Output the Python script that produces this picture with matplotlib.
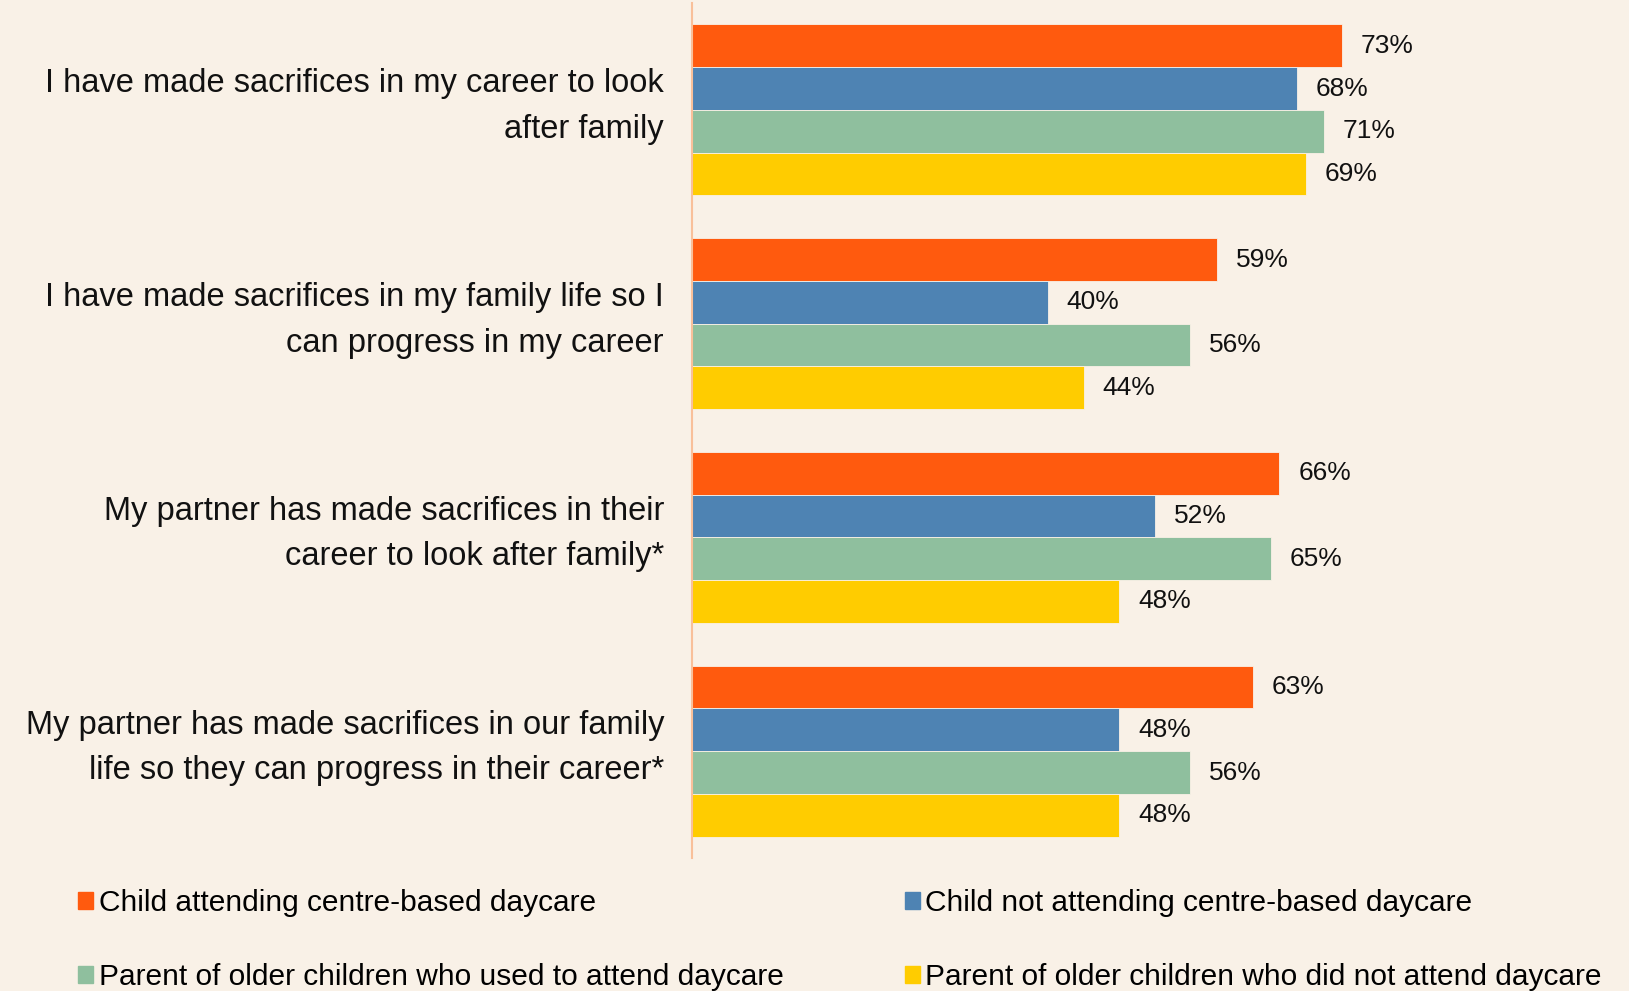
import numpy as np
import matplotlib.pyplot as plt
from matplotlib.patches import Patch
import matplotlib.transforms as mtransforms

# data
categories = [
    "I have made sacrifices in my career to look\nafter family",
    "I have made sacrifices in my family life so I\ncan progress in my career",
    "My partner has made sacrifices in their\ncareer to look after family*",
    "My partner has made sacrifices in our family\nlife so they can progress in their career*",
]
series_names = [
    "Child attending centre-based daycare",
    "Child not attending centre-based daycare",
    "Parent of older children who used to attend daycare",
    "Parent of older children who did not attend daycare",
]
attending = [73, 59, 66, 63]
not_attending = [68, 40, 52, 48]
older_used = [71, 56, 65, 56]
older_not = [69, 44, 48, 48]

colors = ["#FF5A0E", "#4E83B3", "#8FBF9E", "#FFCC00"]
bg = "#F9F1E7"
fonts = ["Liberation Sans", "DejaVu Sans"]

fig = plt.figure(figsize=(16.29, 9.91), dpi=100, facecolor=bg)
ax = fig.add_axes([692 / 1629, 1 - 858 / 991, 890 / 1629, 855 / 991])
ax.set_facecolor(bg)

y = np.arange(len(categories))
h = 0.2
all_series = [attending, not_attending, older_used, older_not]
for i, vals in enumerate(all_series):
    pos = y - 0.3 + i * h
    ax.barh(pos, vals, height=h, color=colors[i], edgecolor=bg, linewidth=0.6)
    for p, v in zip(pos, vals):
        ax.annotate(f"{v}%", (v, p), xytext=(13.5, 0), textcoords="offset points",
                    ha="left", va="center", fontsize=19, color="#111111",
                    family=fonts)

ax.set_xlim(0, 100)
ax.set_ylim(3.5, -0.5)
ax.set_xticks([])
ax.set_yticks([])

# category labels, right aligned left of the axis line
trans = mtransforms.blended_transform_factory(ax.transAxes, ax.transData)
for yi, cat in zip(y, categories):
    ax.text(-28 / 890, yi - 0.015, cat, transform=trans, ha="right", va="center",
            fontsize=23.5, linespacing=1.6, family=fonts, color="#111111")

for s in ["top", "right", "bottom"]:
    ax.spines[s].set_visible(False)
ax.spines["left"].set_color("#F9C09A")
ax.spines["left"].set_linewidth(1.5)

handles = [Patch(color=colors[k]) for k in [0, 2, 1, 3]]
labels = [series_names[k] for k in [0, 2, 1, 3]]
fig.legend(handles, labels, loc="upper left", bbox_to_anchor=(51 / 1629, 1 - 862 / 991),
           ncol=2, frameon=False, handlelength=0.5, handleheight=0.5,
           handletextpad=0.2, labelspacing=1.55, columnspacing=4.05,
           prop={"family": fonts, "size": 21.5})

plt.savefig("out.png", dpi=100, facecolor=bg)
plt.close()
